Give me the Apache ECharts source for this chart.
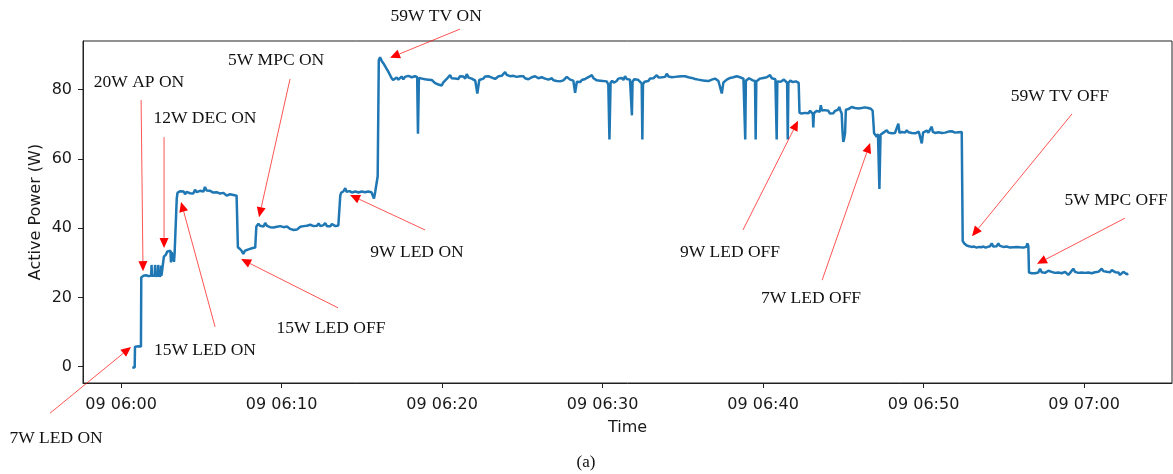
<!DOCTYPE html>
<html><head><meta charset="utf-8">
<script src="https://cdn.jsdelivr.net/npm/echarts@6/dist/echarts.min.js"></script>
<style>html,body{margin:0;padding:0;background:#fff}#c{width:1173px;height:474px}</style>
</head><body><div id="c"></div>
<script>
// Time is counted in minutes after 06:00 on day 09.
const dayLabel = '09';
const startMinuteOfDay = 6 * 60;
const xTickMinutes = [0, 10, 20, 30, 40, 50, 60];
const yTicks = [0, 20, 40, 60, 80];

// [minutes after 06:00, active power W]
const powerReadings = [
[0.70,-0.2],[0.85,-0.2],[0.87,5.8],[1.10,5.9],[1.24,5.8],[1.26,25.8],[1.40,26.3],
[1.55,26.4],[1.70,26.2],[1.88,26.3],[1.90,29.4],[1.93,26.3],[2.10,26.3],[2.12,29.4],[2.15,26.2],[2.29,26.3],[2.31,29.4],[2.34,26.3],[2.47,26.2],[2.49,29.2],[2.52,26.3],[2.64,26.4],
[2.67,31.8],[2.80,32.4],[2.88,33.3],[3.00,32.9],[3.08,33.5],[3.11,30.1],[3.15,33.1],[3.25,33.3],[3.30,30.3],[3.34,33.0],[3.44,33.4],[3.47,48.5],
[3.52,50.3],[3.60,49.9],[3.70,50.7],[3.80,50.2],[3.90,50.6],[3.99,49.8],[4.08,50.5],[4.19,50.9],[4.30,50.1],[4.40,50.5],[4.50,50.0],[4.61,51.1],[4.72,50.4],[4.82,50.0],[4.92,50.8],[5.03,51.3],[5.13,50.6],[5.23,51.9],[5.33,50.9],[5.44,50.4],[5.55,50.8],[5.65,51.1],[5.75,50.3],[5.86,49.8],[5.96,50.4],[6.06,50.7],[6.17,50.0],[6.27,49.5],[6.38,50.2],[6.48,49.8],[6.58,49.4],[6.69,49.2],[6.79,49.8],[6.89,49.5],[7.00,49.6],[7.10,49.2],[7.20,49.4],[7.25,48.9],
[7.28,34.5],[7.41,34.0],[7.52,33.4],[7.62,32.6],[7.72,33.5],[7.83,33.6],[7.94,33.9],[8.04,33.7],[8.15,34.2],[8.24,34.0],[8.36,34.4],[8.40,34.2],
[8.43,40.5],[8.56,41.3],[8.66,40.7],[8.77,40.9],[8.88,40.5],[8.98,41.5],[9.09,40.7],[9.19,40.9],[9.29,40.3],[9.40,40.5],[9.50,40.2],[9.60,40.7],[9.71,40.4],[9.81,40.1],[9.92,40.6],[10.02,40.8],[10.13,40.3],[10.23,40.2],[10.34,40.5],[10.44,40.0],[10.54,39.8],[10.64,39.9],[10.75,39.5],[10.85,39.2],[10.96,39.6],[11.06,39.9],[11.17,40.4],[11.27,40.9],[11.38,40.6],[11.48,41.1],[11.58,40.7],[11.68,40.6],[11.79,41.0],[11.89,41.1],[12.00,40.6],[12.10,40.9],[12.21,40.7],[12.31,41.4],[12.42,40.6],[12.52,40.7],[12.62,40.9],[12.72,41.5],[12.83,40.6],[12.93,40.8],[13.04,40.6],[13.14,41.2],[13.25,40.7],[13.35,40.6],[13.45,41.0],[13.54,40.8],[13.62,41.0],
[13.66,49.5],[13.72,50.3],[13.85,50.6],[13.97,51.6],[14.05,50.5],[14.15,50.4],[14.25,50.7],[14.38,50.3],[14.50,50.2],[14.60,50.6],[14.70,50.8],[14.80,50.3],[14.90,50.4],[15.00,50.6],[15.10,50.9],[15.20,50.4],[15.30,50.3],[15.40,50.6],[15.50,50.8],[15.60,50.4],[15.70,50.5],[15.76,48.6],[15.84,50.6],[15.93,51.0],[15.99,55.0],[16.06,88.5],[16.14,89.4],
[16.25,88.2],[16.35,87.6],[16.45,87.4],[16.55,86.0],[16.65,85.2],[16.75,84.3],[16.85,83.4],[16.95,82.8],[17.07,82.7],[17.17,83.5],[17.28,82.9],[17.38,83.2],[17.48,83.8],[17.59,83.0],[17.69,83.7],[17.80,83.4],[17.90,84.0],[18.00,84.2],[18.11,83.6],[18.21,84.1],[18.32,83.9],[18.45,83.6],[18.50,67.3],[18.56,83.4],[18.66,83.8],[18.75,83.2],[18.84,83.5],[18.94,83.0],[19.05,83.3],[19.15,82.9],[19.25,82.5],[19.36,82.8],[19.46,82.5],[19.57,81.9],[19.67,81.7],[19.77,81.5],[19.88,81.8],[19.98,81.2],[20.08,82.1],[20.19,82.1],[20.29,83.1],[20.40,83.5],[20.50,84.2],[20.60,83.3],[20.71,83.8],[20.81,83.2],[20.91,83.6],[21.02,83.1],[21.12,83.9],[21.23,83.4],[21.33,83.8],[21.44,83.2],[21.54,84.5],[21.65,83.5],[21.75,83.8],[21.85,83.2],[21.96,83.5],[22.07,82.6],[22.20,78.9],[22.32,82.8],[22.44,83.3],[22.57,83.2],[22.68,83.8],[22.78,83.4],[22.89,83.9],[22.99,84.2],[23.10,83.5],[23.20,83.7],[23.31,83.1],[23.41,83.2],[23.52,83.9],[23.62,83.6],[23.72,84.0],[23.83,84.4],[23.93,85.1],[24.03,84.3],[24.14,84.1],[24.24,83.9],[24.35,83.6],[24.45,84.0],[24.55,83.5],[24.65,83.7],[24.76,83.4],[24.86,83.9],[24.96,83.5],[25.07,83.9],[25.17,83.3],[25.28,83.6],[25.38,83.0],[25.48,83.2],[25.59,83.6],[25.69,83.4],[25.80,83.9],[25.90,83.5],[26.00,83.3],[26.11,83.8],[26.21,83.6],[26.31,83.7],[26.42,83.2],[26.52,83.4],[26.63,82.9],[26.73,82.9],[26.84,83.3],[26.94,82.7],[27.04,82.6],[27.15,82.5],[27.25,82.9],[27.35,82.4],[27.46,82.8],[27.56,82.7],[27.66,83.2],[27.77,83.7],[27.87,83.5],[27.98,82.9],[28.08,83.2],[28.18,82.6],[28.29,79.1],[28.40,82.3],[28.50,82.7],[28.60,82.2],[28.71,82.8],[28.81,82.5],[28.92,83.1],[29.02,82.9],[29.12,83.6],[29.23,83.2],[29.33,84.2],[29.44,83.3],[29.54,82.9],[29.64,82.7],[29.75,83.1],[29.85,82.6],[29.95,82.9],[30.05,82.5],[30.16,82.9],[30.26,82.4],[30.36,81.5],[30.43,65.6],[30.50,82.0],[30.60,82.6],[30.70,82.0],[30.78,82.2],[30.88,82.5],[30.98,83.2],[31.09,82.7],[31.19,83.4],[31.30,82.8],[31.40,83.9],[31.50,83.1],[31.61,83.6],[31.71,82.9],[31.80,82.4],[31.83,72.6],[31.87,82.3],[31.97,83.0],[32.08,82.6],[32.20,82.9],[32.32,82.4],[32.44,81.8],[32.48,65.6],[32.52,81.5],[32.62,82.3],[32.73,82.1],[32.85,82.5],[32.96,83.2],[33.07,83.6],[33.17,83.3],[33.28,83.8],[33.38,84.2],[33.49,83.5],[33.59,83.9],[33.70,83.6],[33.80,84.1],[33.90,83.7],[34.00,84.6],[34.11,83.8],[34.21,84.0],[34.32,83.6],[34.42,83.9],[34.52,83.7],[34.63,83.4],[34.73,83.8],[34.83,83.5],[34.94,83.9],[35.04,83.6],[35.14,83.9],[35.25,84.2],[35.35,83.6],[35.45,83.8],[35.56,83.4],[35.66,83.5],[35.77,83.1],[35.87,83.4],[35.97,82.9],[36.08,83.1],[36.18,82.7],[36.29,83.0],[36.39,82.6],[36.49,82.9],[36.60,82.5],[36.70,82.5],[36.81,82.9],[36.91,82.6],[37.01,83.2],[37.12,82.9],[37.22,82.5],[37.33,82.0],[37.43,78.9],[37.53,82.1],[37.64,82.6],[37.74,82.9],[37.84,82.9],[37.95,83.4],[38.05,83.0],[38.15,83.6],[38.26,83.2],[38.36,83.9],[38.46,83.4],[38.57,83.6],[38.67,83.1],[38.78,83.2],[38.86,82.8],[38.89,65.6],[38.93,82.6],[39.03,82.9],[39.13,83.3],[39.23,82.9],[39.36,82.7],[39.50,82.5],[39.54,65.6],[39.58,82.4],[39.70,82.8],[39.81,83.2],[39.92,82.7],[40.02,83.4],[40.13,83.0],[40.23,83.6],[40.34,83.1],[40.44,84.2],[40.55,83.3],[40.65,82.9],[40.77,83.0],[40.81,82.6],[40.85,65.6],[40.89,82.4],[41.00,82.8],[41.10,82.3],[41.20,82.5],[41.30,82.9],[41.40,82.4],[41.50,82.0],[41.54,65.6],[41.58,82.0],[41.70,82.6],[41.85,82.2],[41.95,82.7],[42.05,82.4],[42.15,82.2],[42.22,82.0],
[42.27,73.4],[42.40,73.1],[42.52,73.5],[42.62,73.3],[42.73,73.8],[42.83,73.2],[42.93,73.9],[43.03,73.4],[43.10,73.0],[43.13,69.1],[43.17,73.2],[43.27,73.6],[43.35,73.9],[43.45,74.2],[43.53,73.6],[43.60,75.5],[43.67,74.0],[43.76,74.3],[43.86,74.1],[43.96,73.6],[44.07,73.9],[44.17,73.1],[44.28,73.5],[44.38,73.2],[44.49,73.9],[44.58,73.6],[44.67,74.2],[44.75,75.0],[44.82,74.0],[44.90,73.1],[44.95,68.0],[45.00,64.9],[45.06,66.0],[45.11,67.5],[45.16,74.2],[45.21,74.6],[45.32,74.4],[45.42,74.8],[45.52,75.0],[45.62,74.5],[45.73,74.7],[45.83,74.4],[45.94,74.6],[46.04,75.0],[46.14,74.7],[46.25,75.0],[46.35,74.9],[46.45,75.1],[46.55,74.7],[46.62,74.8],[46.72,74.5],[46.83,73.9],[46.88,73.6],
[46.92,67.4],[47.00,67.0],[47.08,66.4],[47.16,67.2],[47.25,51.3],[47.32,67.0],[47.39,67.3],[47.50,67.6],[47.60,67.8],[47.71,68.3],[47.81,67.6],[47.92,67.9],[48.02,67.4],[48.12,67.8],[48.22,67.5],[48.33,68.0],[48.43,70.2],[48.50,67.5],[48.64,67.8],[48.74,68.1],[48.85,67.6],[48.95,68.3],[49.06,67.7],[49.16,68.0],[49.27,67.5],[49.37,67.9],[49.48,67.4],[49.58,67.8],[49.70,67.9],[49.80,67.7],[49.89,64.5],[49.97,67.6],[50.09,67.8],[50.20,68.2],[50.30,67.6],[50.41,68.0],[50.51,69.3],[50.58,67.8],[50.72,67.5],[50.82,68.0],[50.93,67.7],[51.03,68.1],[51.14,67.5],[51.24,68.0],[51.35,67.6],[51.45,67.5],[51.55,67.9],[51.66,67.6],[51.76,68.0],[51.86,68.1],[51.97,67.6],[52.07,67.9],[52.17,67.7],[52.27,67.8],[52.38,67.8],
[52.44,36.3],[52.54,35.6],[52.69,35.0],[52.84,34.8],[53.00,34.6],[53.15,34.7],[53.31,34.4],[53.45,34.6],[53.59,34.5],[53.73,34.7],[53.87,34.4],[54.00,34.6],[54.14,34.8],[54.25,35.6],[54.35,34.7],[54.46,34.6],[54.56,34.8],[54.66,35.6],[54.76,34.9],[54.87,34.5],[54.97,34.6],[55.08,34.4],[55.18,34.7],[55.29,34.5],[55.39,34.4],[55.50,34.6],[55.60,34.5],[55.70,34.3],[55.81,34.6],[55.91,34.4],[56.01,34.5],[56.12,34.6],[56.22,34.4],[56.32,34.5],[56.40,34.6],[56.47,35.6],[56.53,34.8],
[56.57,27.2],[56.65,26.9],[56.74,27.0],[56.84,27.2],[56.95,27.0],[57.05,27.4],[57.15,27.2],[57.26,28.3],[57.36,27.3],[57.46,27.4],[57.57,27.1],[57.67,27.5],[57.78,27.7],[57.88,27.2],[57.98,27.4],[58.09,27.0],[58.19,27.1],[58.30,26.8],[58.40,27.2],[58.50,26.7],[58.61,27.0],[58.71,27.3],[58.82,27.4],[58.92,26.9],[59.02,26.5],[59.13,27.1],[59.23,27.4],[59.33,28.3],[59.44,27.4],[59.54,27.0],[59.64,27.1],[59.75,26.8],[59.85,27.2],[59.96,26.9],[60.06,27.1],[60.16,26.8],[60.27,27.2],[60.37,27.4],[60.48,27.0],[60.58,27.5],[60.68,27.3],[60.79,27.7],[60.89,27.4],[61.00,27.8],[61.10,28.3],[61.20,27.6],[61.31,27.2],[61.41,27.4],[61.52,27.6],[61.62,27.3],[61.73,27.9],[61.83,27.5],[61.94,27.3],[62.04,27.1],[62.14,27.2],[62.24,26.5],[62.35,27.0],[62.45,27.4],[62.55,27.0],[62.66,26.7],[62.76,26.9]
];

// Event annotations, all in data coordinates [minutes, W]
const eventLabels = ['7W LED ON','20W AP ON','12W DEC ON','5W MPC ON','15W LED ON','15W LED OFF','9W LED ON','59W TV ON','9W LED OFF','7W LED OFF','59W TV OFF','5W MPC OFF'];
const eventTextAt = [[-4.05,-20.6],[1.12,82.2],[5.23,71.8],[9.66,88.6],[5.23,4.8],[13.08,11.2],[18.44,33.1],[19.63,101.3],[37.94,33.1],[42.99,19.8],[58.50,78.2],[62.0,48.1]];
const eventTail = [[-4.42,-13.4],[1.25,77.0],[2.68,66.3],[10.53,83.1],[5.86,11.5],[13.52,17.0],[18.94,39.5],[21.12,97.5],[38.75,39.5],[43.68,25.0],[59.25,73.0],[62.55,42.9]];
const eventTip = [[0.62,5.7],[1.37,27.6],[2.68,34.3],[8.60,43.2],[3.74,47.6],[7.48,31.1],[14.27,49.6],[16.76,89.2],[42.18,71.0],[46.67,64.6],[53.02,37.7],[57.07,29.7]];
const caption = '(a)';

function fmtTime(m) {
  const tot = startMinuteOfDay + Math.round(m);
  const hh = String(Math.floor(tot / 60)).padStart(2, '0');
  const mm = String(tot % 60).padStart(2, '0');
  return dayLabel + ' ' + hh + ':' + mm;
}

const axisFont = 'DejaVu Sans';
const chart = echarts.init(document.getElementById('c'), null, {renderer: 'canvas'});
chart.setOption({
  animation: false,
  backgroundColor: '#fff',
  grid: {left: 83, right: 1, top: 41, bottom: 91, show: true, borderColor: '#222', borderWidth: 1, backgroundColor: 'transparent'},
  xAxis: {
    type: 'value', min: -2.37, max: 65.48,
    name: 'Time', nameLocation: 'middle', nameGap: 37, nameMoveOverlap: false,
    nameTextStyle: {fontFamily: axisFont, fontSize: 16, color: '#1a1a1a'},
    axisLine: {show: true, onZero: false, lineStyle: {color: '#222', width: 1}},
    axisTick: {show: true, customValues: xTickMinutes, length: 5, lineStyle: {color: '#222'}},
    axisLabel: {customValues: xTickMinutes, formatter: fmtTime, margin: 14, fontFamily: axisFont, fontSize: 16, color: '#1a1a1a'},
    splitLine: {show: false}
  },
  yAxis: {
    type: 'value', min: -4.7, max: 94.06,
    name: 'Active Power (W)', nameLocation: 'middle', nameGap: 39, nameMoveOverlap: false,
    nameTextStyle: {fontFamily: axisFont, fontSize: 16, color: '#1a1a1a'},
    axisLine: {show: true, onZero: false, lineStyle: {color: '#222', width: 1}},
    axisTick: {show: true, customValues: yTicks, length: 5, lineStyle: {color: '#222'}},
    axisLabel: {customValues: yTicks, margin: 11, fontFamily: axisFont, fontSize: 16, color: '#1a1a1a'},
    splitLine: {show: false}
  },
  series: [{
    type: 'line', data: powerReadings, showSymbol: false, symbol: 'none',
    lineStyle: {color: '#1f77b4', width: 2.5}, itemStyle: {color: '#1f77b4'}
  }]
});

const g = [];
eventLabels.forEach(function (lab, i) {
  const p = chart.convertToPixel({gridIndex: 0}, eventTextAt[i]);
  const a = chart.convertToPixel({gridIndex: 0}, eventTail[i]);
  const b = chart.convertToPixel({gridIndex: 0}, eventTip[i]);
  const dx = b[0] - a[0], dy = b[1] - a[1];
  const L = Math.hypot(dx, dy), ux = dx / L, uy = dy / L;
  const hl = 10, hw = 4.5;
  const bx = b[0] - ux * hl, by = b[1] - uy * hl;
  g.push({type: 'line', silent: true, z: 100, shape: {x1: a[0], y1: a[1], x2: bx, y2: by}, style: {stroke: '#ff0000', lineWidth: 0.9, opacity: 0.75}});
  g.push({type: 'polygon', silent: true, z: 101, shape: {points: [[b[0], b[1]], [bx - uy * hw, by + ux * hw], [bx + uy * hw, by - ux * hw]]}, style: {fill: '#ff0000'}});
  g.push({type: 'text', silent: true, z: 102, x: p[0], y: p[1], style: {text: lab, font: '17.5px "Liberation Serif"', fill: '#111', align: 'center', verticalAlign: 'middle', textAlign: 'center', textVerticalAlign: 'middle'}});
});
g.push({type: 'text', silent: true, x: 586, y: 463, style: {text: caption, font: '17px "Liberation Serif"', fill: '#111', align: 'center', verticalAlign: 'middle', textAlign: 'center', textVerticalAlign: 'middle'}});
chart.setOption({graphic: g});
</script>
</body></html>
